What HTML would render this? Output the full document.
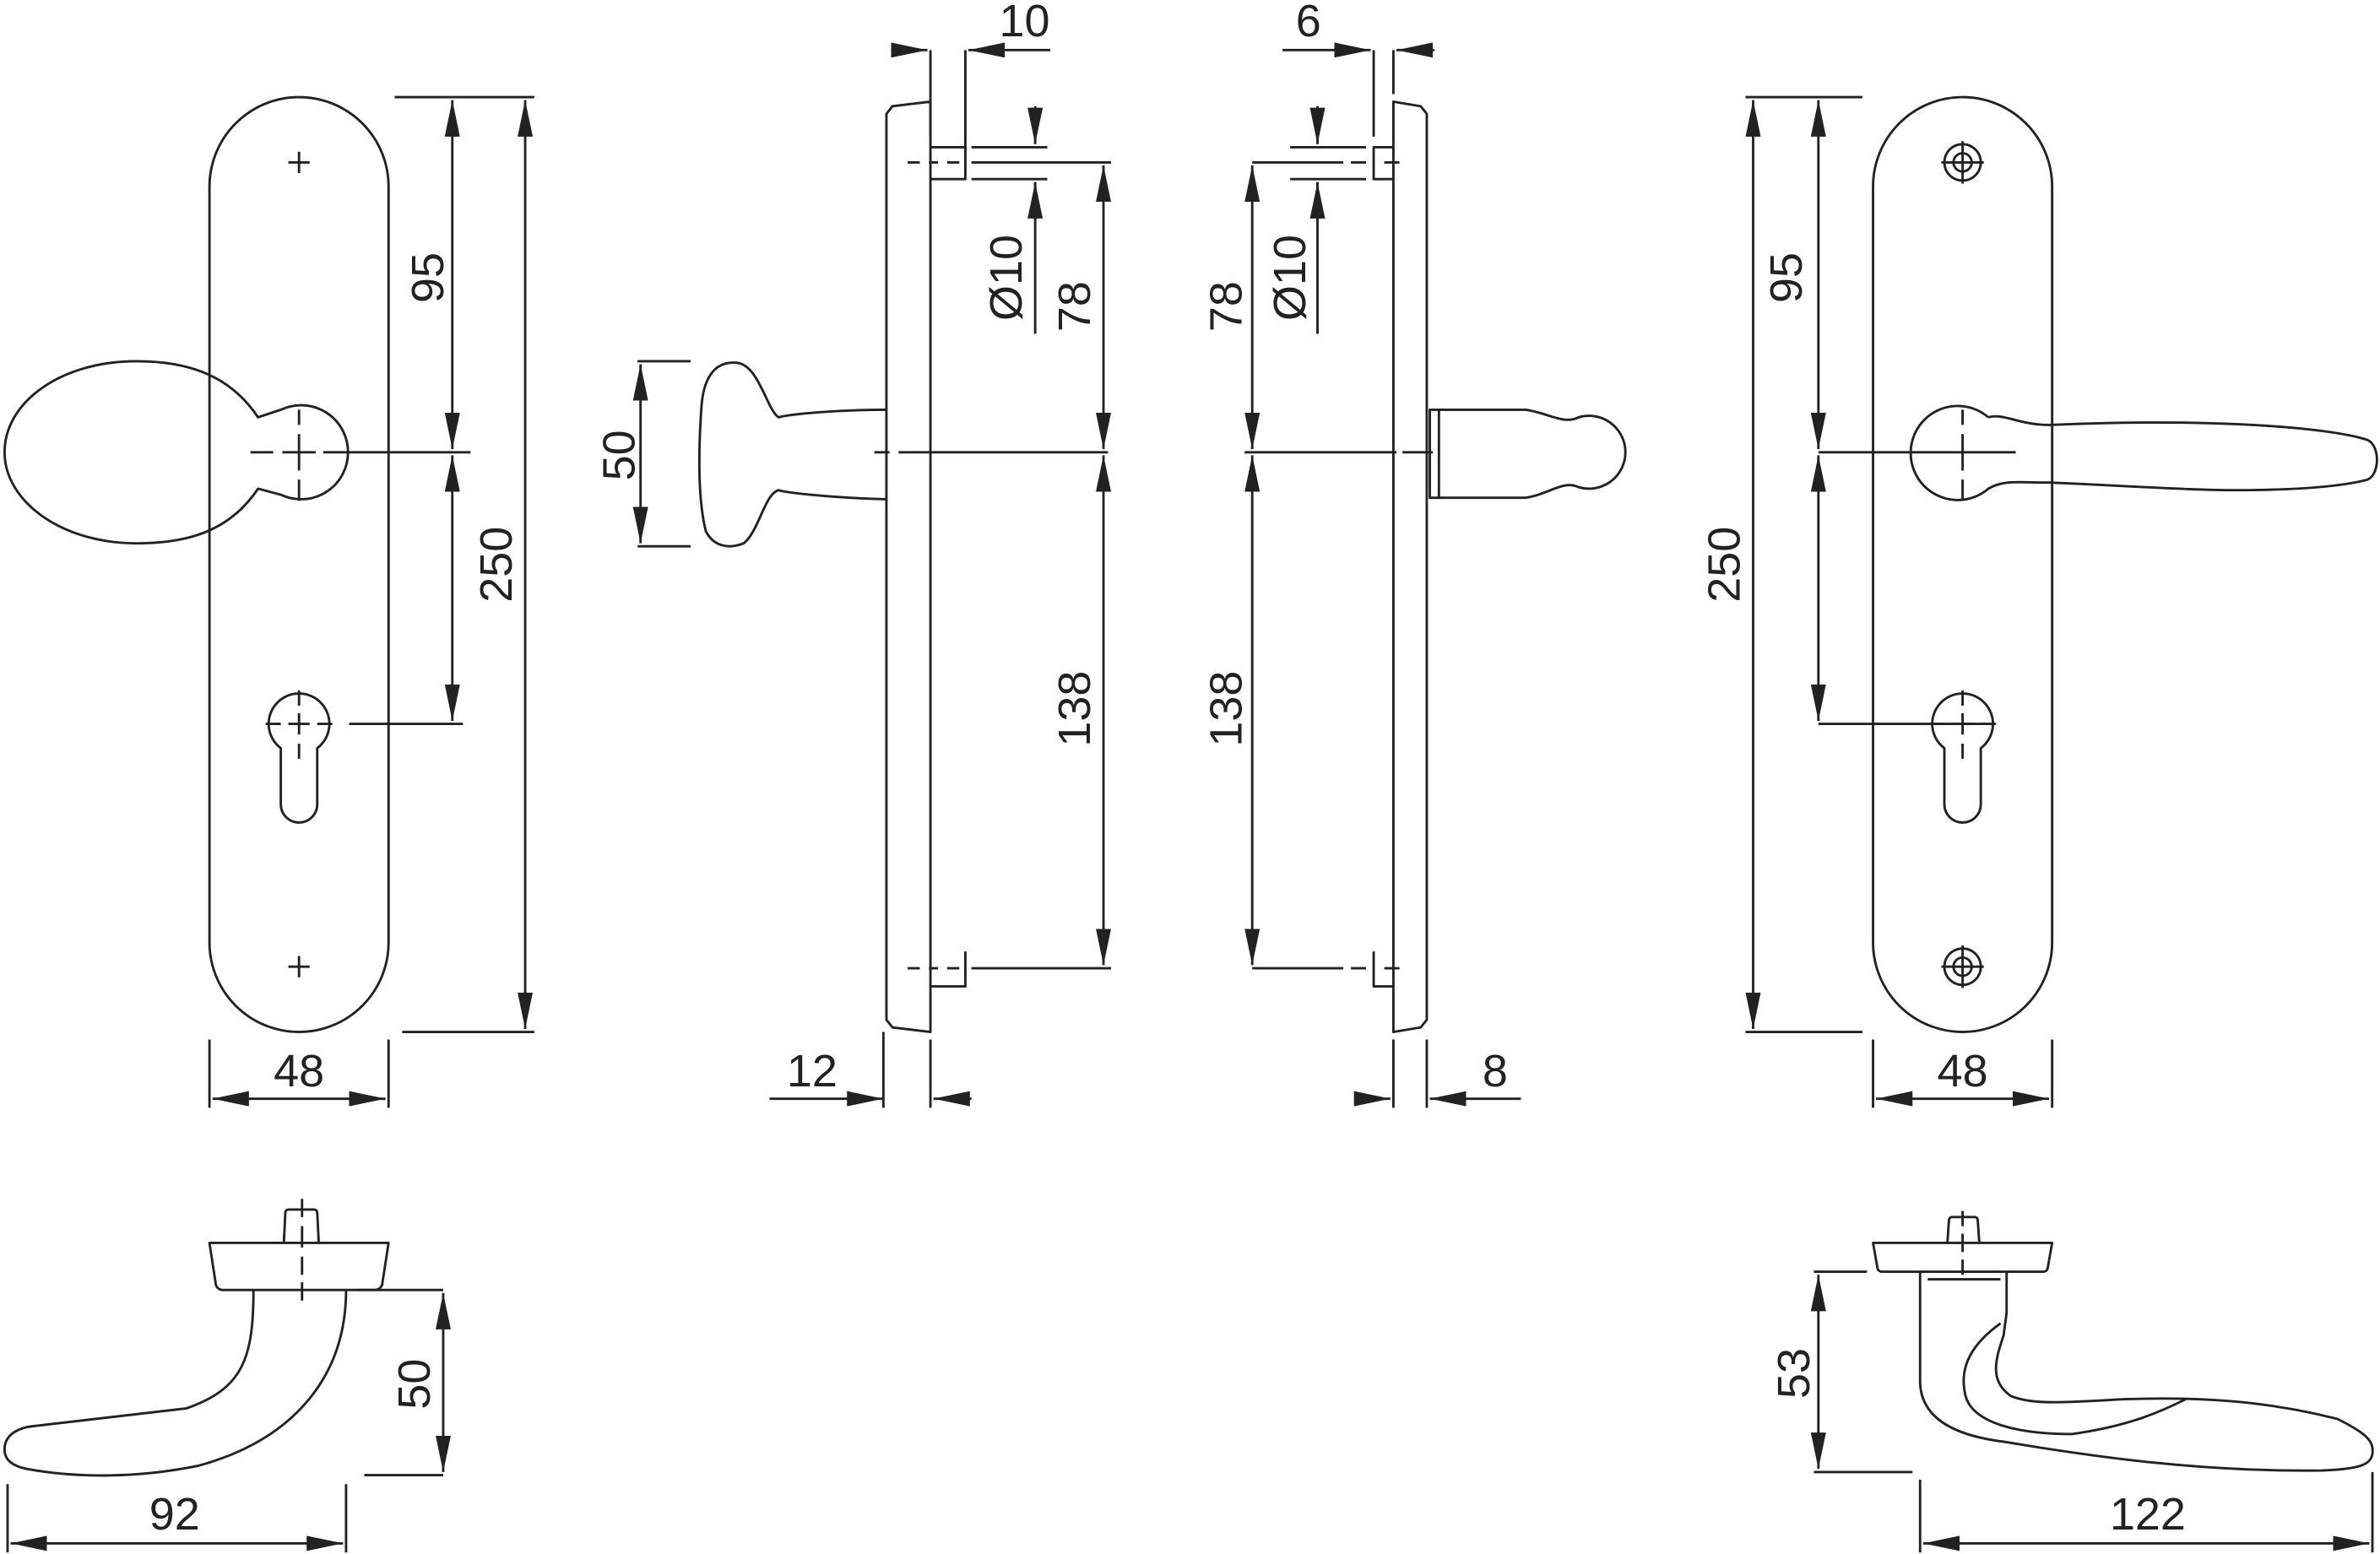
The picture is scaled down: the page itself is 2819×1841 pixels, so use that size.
<!DOCTYPE html>
<html><head><meta charset="utf-8"><style>html,body{margin:0;padding:0;background:#fff}svg{display:block}</style></head>
<body>
<svg width="2819" height="1841" viewBox="0 0 1568 1024" xmlns="http://www.w3.org/2000/svg">
<defs>
<marker id="a" viewBox="0 0 24 10" refX="24" refY="5" markerWidth="24" markerHeight="10" markerUnits="userSpaceOnUse" orient="auto-start-reverse"><path d="M0,0L24,5L0,10z" fill="#222"/></marker>
</defs>
<g fill="none" stroke="#222" stroke-width="1.6" stroke-linejoin="round">
<!-- LEFT PLATE -->
<rect x="138" y="64" width="118" height="616" rx="59"/>
<path d="M190,107h14M197,100v14M190,637h14M197,630v14"/>
<path d="M170,275 C150,245 120,238 90,238 C40,238 3,265 3,298 C3,330 40,358 90,358 C120,358 150,352 170,322 L185,326 A31,31 0 1 0 185,270 Z"/>
<path d="M185,493 A20,20 0 1 1 209,493 L209,530 A12,12 0 0 1 185,530 Z"/>
<path d="M197,455v10M197,470v14M197,490v10M175,477h10M190,477h14M209,477h10" />
<path d="M165,298h15M186,298h22M213,298h15M197,270v10M197,286v24M197,316v14"/>
<path d="M228,298h82M230,477h75M260,64h92M265,680h87"/>
<path d="M298,66V296" marker-start="url(#a)" marker-end="url(#a)"/>
<path d="M298,300V475" marker-start="url(#a)" marker-end="url(#a)"/>
<path d="M346,66V678" marker-start="url(#a)" marker-end="url(#a)"/>
<path d="M138,685v45M256,685v45"/>
<path d="M140,724H254" marker-start="url(#a)" marker-end="url(#a)"/>
<!-- SIDE VIEW 1 -->
<path d="M584,75 L588,70 L613,67 V680 L588,677 L584,672 Z"/>
<path d="M613,97 H636 V118 H613 M636,627 V650 H613"/>
<path d="M584,270 C550,270 520,273 513,275 C505,270 500,240 485,239 C470,238 463,250 462,270 C460,300 460,330 465,350 C470,360 480,362 490,358 C500,350 504,325 513,323 C520,325 550,328 584,329"/>
<path d="M576,298h10M592,298h138M598,107h8M612,107h6M624,107h8M640,107h92M598,638h8M612,638h6M624,638h8M640,638h92"/>
<path d="M613,33V90M636,33V100M582,680v50M613,685v45"/>
<path d="M640,97h50M640,118h50M682,120v100"/>
<path d="M588,33H611" marker-end="url(#a)"/><path d="M660,33H638" marker-end="url(#a)"/><path d="M660,33H692"/>
<path d="M682,70V95" marker-end="url(#a)"/><path d="M682,145V120" marker-end="url(#a)"/>
<path d="M727,109V296" marker-start="url(#a)" marker-end="url(#a)"/>
<path d="M727,300V636" marker-start="url(#a)" marker-end="url(#a)"/>
<path d="M420,238h35M420,360h35"/>
<path d="M422,240V358" marker-start="url(#a)" marker-end="url(#a)"/>
<path d="M507,724H582" marker-end="url(#a)"/><path d="M640,724H615" marker-end="url(#a)"/>
<!-- SIDE VIEW 2 -->
<path d="M940,75 L936,70 L918,67 V680 L936,677 L940,672 Z"/>
<path d="M918,97 H905 V118 H918 M905,627 V650 H918"/>
<path d="M942,270 H1005 C1020,272 1030,280 1040,275 A24,24 0 1 1 1040,321 C1030,316 1020,326 1005,328 H942 Z M948,270V328"/>
<path d="M820,298h100M924,298h20M825,107h60M890,107h10M912,107h10M825,638h60M890,638h10M912,638h10"/>
<path d="M905,33V90M918,33V62M918,685v45M940,685v45"/>
<path d="M850,97h50M850,118h50M868,120v100"/>
<path d="M845,33H903" marker-end="url(#a)"/><path d="M945,33H920" marker-end="url(#a)"/>
<path d="M868,70V95" marker-end="url(#a)"/><path d="M868,145V120" marker-end="url(#a)"/>
<path d="M825,109V296" marker-start="url(#a)" marker-end="url(#a)"/>
<path d="M825,300V636" marker-start="url(#a)" marker-end="url(#a)"/>
<path d="M893,724H916" marker-end="url(#a)"/><path d="M1002,724H942" marker-end="url(#a)"/>
<!-- RIGHT PLATE -->
<rect x="1234" y="64" width="118" height="616" rx="59"/>
<circle cx="1293" cy="107" r="12"/><circle cx="1293" cy="107" r="6"/><path d="M1279,107h28M1293,93v28"/>
<circle cx="1293" cy="637" r="12"/><circle cx="1293" cy="637" r="6"/><path d="M1279,637h28M1293,623v28"/>
<path d="M1310,275 A31,31 0 1 0 1310,322 C1320,316 1330,318 1350,318 C1400,320 1440,323 1470,323 C1520,323 1545,320 1560,316 C1568,312 1568,294 1560,290 C1540,283 1470,275 1350,280 C1330,280 1320,272 1310,275"/>
<path d="M1281,493 A20,20 0 1 1 1305,493 L1305,530 A12,12 0 0 1 1281,530 Z"/>
<path d="M1293,455v10M1293,470v14M1293,490v10M1271,477h10M1286,477h14M1305,477h10"/>
<path d="M1198,298h130M1293,270v10M1293,286v24M1293,316v14"/>
<path d="M1198,477h110M1150,64h77M1150,680h77"/>
<path d="M1198,66V296" marker-start="url(#a)" marker-end="url(#a)"/>
<path d="M1198,300V475" marker-start="url(#a)" marker-end="url(#a)"/>
<path d="M1155,66V678" marker-start="url(#a)" marker-end="url(#a)"/>
<path d="M1234,685v45M1352,685v45"/>
<path d="M1236,724H1350" marker-start="url(#a)" marker-end="url(#a)"/>
<!-- BOTTOM LEFT LEVER -->
<path d="M187,819 L188,799 A2,2 0 0 1 190,797 H207 A2,2 0 0 1 209,799 L210,819"/>
<path d="M138,819 H256 L252,845 A5,5 0 0 1 247,850 H146 A5,5 0 0 1 142,845 Z"/>
<path d="M199,790v12M199,808v14M199,828v12M199,845v12"/>
<path d="M167,850 C167,895 160,915 123,928 L20,940 C8,942 3,948 3,955 C3,962 8,966 18,968 C40,972 80,976 130,966 C190,950 228,910 228,850"/>
<path d="M235,850h57M240,972h52"/>
<path d="M292,852V970" marker-start="url(#a)" marker-end="url(#a)"/>
<path d="M5,978v45M228,978v45"/>
<path d="M7,1017H226" marker-start="url(#a)" marker-end="url(#a)"/>
<!-- BOTTOM RIGHT LEVER -->
<path d="M1283,819 L1284,804 A2,2 0 0 1 1286,802 H1301 A2,2 0 0 1 1303,804 L1304,819"/>
<path d="M1234,819 H1352 L1349,836 A3,3 0 0 1 1346,838 H1240 A3,3 0 0 1 1237,836 Z"/>
<path d="M1293,798v10M1293,813v12M1293,830v10"/>
<path d="M1265,838 V910 C1265,930 1280,945 1320,950 C1380,960 1450,970 1530,969 C1555,968 1562,965 1563,958 C1564,950 1560,945 1540,935 C1500,925 1460,920 1400,922 C1360,924 1340,926 1325,920 C1310,910 1315,895 1320,880 L1322,865 V838"/>
<path d="M1270,843H1318M1318,872 C1300,885 1290,900 1295,920 C1300,938 1330,945 1365,945 C1400,940 1420,932 1440,922"/>
<path d="M1195,838h35M1195,970h65"/>
<path d="M1198,840V968" marker-start="url(#a)" marker-end="url(#a)"/>
<path d="M1265,975v48M1563,970v53"/>
<path d="M1267,1017H1561" marker-start="url(#a)" marker-end="url(#a)"/>
</g>
<g font-family="Liberation Sans, sans-serif" font-size="30" fill="#222" text-anchor="middle">
<text x="197" y="716">48</text>
<text x="1293" y="716">48</text>
<text x="535" y="716">12</text>
<text x="985" y="716">8</text>
<text x="675" y="24">10</text>
<text x="862" y="24">6</text>
<text x="115" y="1008">92</text>
<text x="1415" y="1008">122</text>
<text transform="translate(292,183) rotate(-90)">95</text>
<text transform="translate(337,372) rotate(-90)">250</text>
<text transform="translate(1187,183) rotate(-90)">95</text>
<text transform="translate(1146,372) rotate(-90)">250</text>
<text transform="translate(418,300) rotate(-90)">50</text>
<text transform="translate(718,202) rotate(-90)">78</text>
<text transform="translate(718,467) rotate(-90)">138</text>
<text transform="translate(818,202) rotate(-90)">78</text>
<text transform="translate(818,467) rotate(-90)">138</text>
<text transform="translate(673,183) rotate(-90)">Ø10</text>
<text transform="translate(860,183) rotate(-90)">Ø10</text>
<text transform="translate(283,912) rotate(-90)">50</text>
<text transform="translate(1192,905) rotate(-90)">53</text>
</g>
</svg>
</body></html>
